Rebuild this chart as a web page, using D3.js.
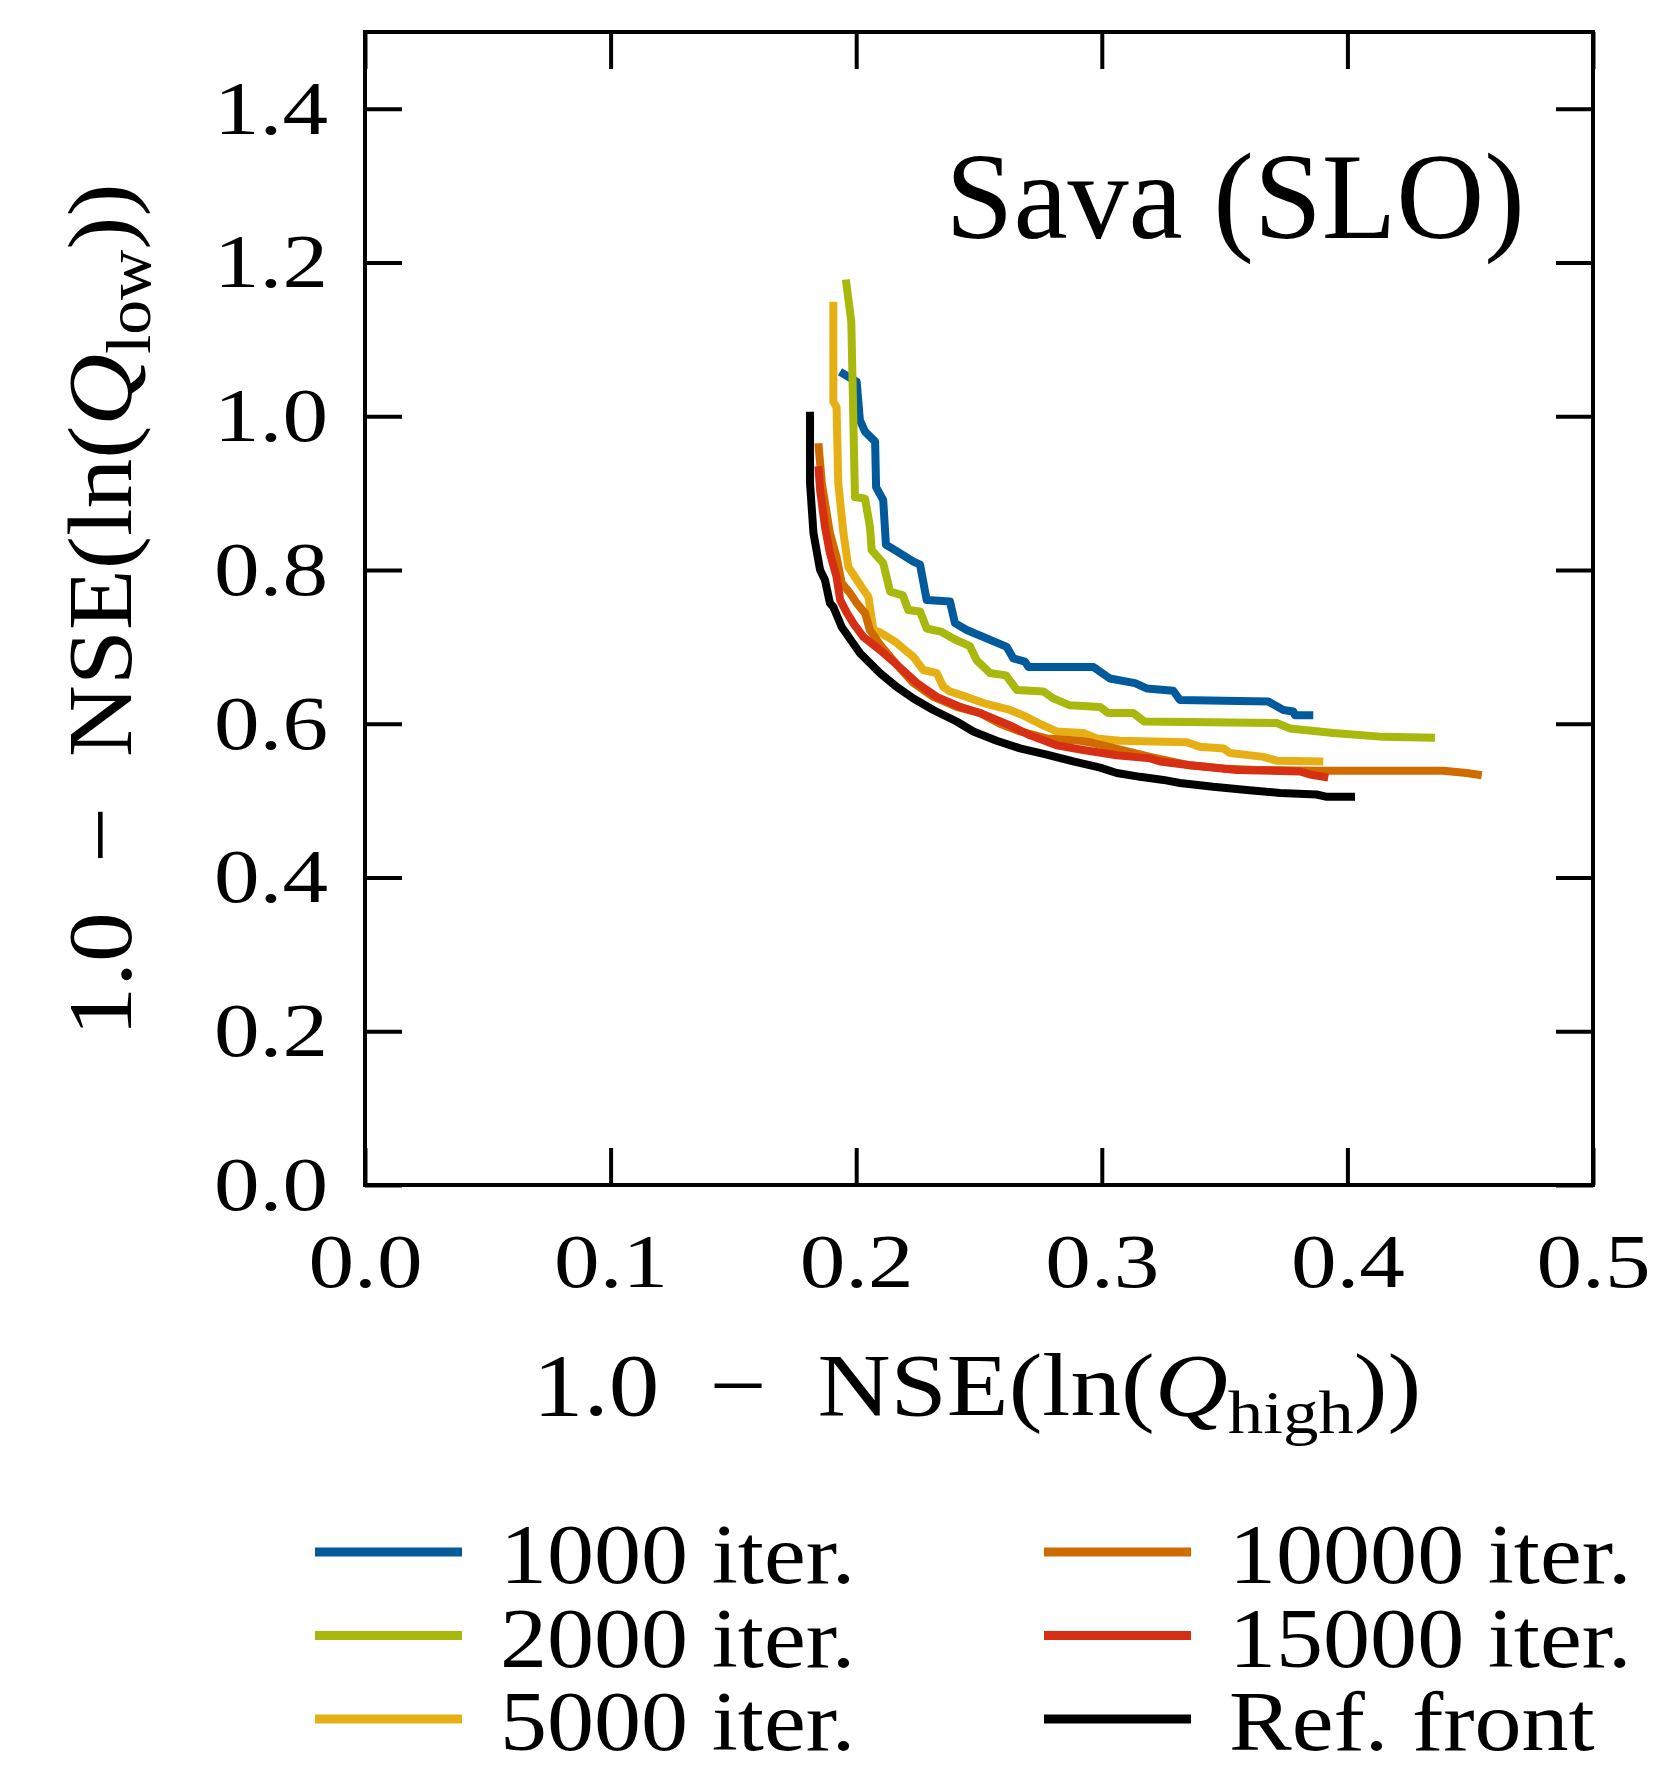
<!DOCTYPE html>
<html>
<head>
<meta charset="utf-8">
<script src="https://cdn.jsdelivr.net/npm/d3@7"></script>
<style>
  body { margin: 0; background: #fff; }
  text { font-family: "Liberation Serif", "DejaVu Serif", serif; fill: #000; }
</style>
</head>
<body>
<svg class="svg-main" width="1653" height="1772"></svg>
<script>
// values: [1 - NSE(ln Qhigh), 1 - NSE(ln Qlow)]
const iter1000 = [[0.1934,1.058],[0.2002,1.045],[0.2015,0.995],[0.2036,0.980],[0.2077,0.967],[0.2081,0.908],
  [0.2110,0.891],[0.2121,0.833],[0.2158,0.826],[0.2233,0.811],[0.2260,0.807],[0.2287,0.761],[0.2382,0.759],
  [0.2402,0.731],[0.2450,0.722],[0.2613,0.700],[0.2640,0.685],[0.2687,0.681],[0.2701,0.674],[0.2966,0.674],
  [0.3033,0.659],[0.3135,0.653],[0.3183,0.646],[0.3291,0.643],[0.3318,0.631],[0.3678,0.629],[0.3739,0.618],
  [0.3780,0.616],[0.3787,0.611],[0.3861,0.611]];
const iter2000 = [[0.1958,1.178],[0.1980,1.123],[0.1995,0.895],[0.2036,0.893],[0.2056,0.856],[0.2063,0.826],
  [0.2110,0.809],[0.2138,0.772],[0.2190,0.767],[0.2212,0.748],[0.2260,0.746],[0.2287,0.724],[0.2345,0.720],
  [0.2400,0.710],[0.2463,0.701],[0.2490,0.683],[0.2545,0.666],[0.2610,0.663],[0.2654,0.644],[0.2762,0.642],
  [0.2803,0.633],[0.2870,0.624],[0.2993,0.622],[0.3026,0.614],[0.3128,0.614],[0.3173,0.603],[0.3712,0.601],
  [0.3766,0.594],[0.3943,0.588],[0.4146,0.583],[0.4357,0.582]];
const iter5000 = [[0.1907,1.149],[0.1907,1.019],[0.1920,1.012],[0.1927,0.913],[0.1948,0.848],[0.1968,0.804],
  [0.1995,0.791],[0.2022,0.778],[0.2050,0.765],[0.2070,0.722],[0.2097,0.719],[0.2158,0.707],[0.2199,0.696],
  [0.2233,0.687],[0.2273,0.670],[0.2328,0.666],[0.2355,0.648],[0.2382,0.642],[0.2450,0.635],[0.2518,0.627],
  [0.2626,0.618],[0.2680,0.611],[0.2748,0.600],[0.2816,0.590],[0.2925,0.588],[0.2979,0.581],[0.3074,0.578],
  [0.3210,0.577],[0.3346,0.576],[0.3400,0.570],[0.3495,0.568],[0.3522,0.562],[0.3658,0.557],[0.3712,0.552],
  [0.3902,0.551]];
const iter10000 = [[0.1846,0.965],[0.1860,0.913],[0.1893,0.848],[0.1920,0.817],[0.1941,0.783],[0.1975,0.770],
  [0.2002,0.757],[0.2036,0.744],[0.2056,0.722],[0.2097,0.703],[0.2165,0.677],[0.2233,0.653],[0.2314,0.635],
  [0.2409,0.622],[0.2504,0.614],[0.2585,0.600],[0.2667,0.590],[0.2776,0.581],[0.2912,0.578],[0.2966,0.575],
  [0.3197,0.557],[0.3359,0.546],[0.3495,0.542],[0.3631,0.540],[0.3875,0.539],[0.4147,0.539],[0.4390,0.539],
  [0.4486,0.536],[0.4547,0.533]];
const iter15000 = [[0.1846,0.935],[0.1853,0.904],[0.1873,0.856],[0.1893,0.822],[0.1920,0.791],[0.1935,0.761],
  [0.1961,0.745],[0.1990,0.730],[0.2029,0.713],[0.2097,0.696],[0.2165,0.677],[0.2247,0.653],[0.2328,0.635],
  [0.2423,0.622],[0.2504,0.614],[0.2626,0.598],[0.2708,0.585],[0.2816,0.572],[0.2925,0.566],[0.3061,0.559],
  [0.3197,0.555],[0.3237,0.551],[0.3359,0.546],[0.3550,0.540],[0.3807,0.538],[0.3848,0.534],[0.3922,0.530]];
const refFront = [[0.1812,1.006],[0.1812,0.913],[0.1826,0.848],[0.1853,0.800],[0.1873,0.787],[0.1893,0.757],
  [0.1907,0.752],[0.1941,0.726],[0.2015,0.692],[0.2097,0.666],[0.2165,0.648],[0.2233,0.633],[0.2314,0.618],
  [0.2409,0.603],[0.2477,0.590],[0.2572,0.578],[0.2667,0.568],[0.2776,0.560],[0.2884,0.551],[0.2993,0.543],
  [0.3061,0.536],[0.3156,0.531],[0.3251,0.527],[0.3318,0.523],[0.3454,0.518],[0.3590,0.514],[0.3726,0.510],
  [0.3875,0.508],[0.3916,0.505],[0.4031,0.505]];

const seriesNames = ["1000 iter.", "2000 iter.", "5000 iter.", "10000 iter.", "15000 iter.", "Ref. front"];
const seriesColors = ["#005a9c", "#a8b80c", "#e6b015", "#d06b00", "#d62f14", "#000000"];
const seriesData = [iter1000, iter2000, iter5000, iter10000, iter15000, refFront];

const xTicks = [0, 0.1, 0.2, 0.3, 0.4, 0.5];
const yTicks = [0, 0.2, 0.4, 0.6, 0.8, 1.0, 1.2, 1.4];
const title = "Sava (SLO)";

const svg = d3.select(".svg-main");

const plotL = 365, plotR = 1593, plotT = 32, plotB = 1185;
const x = d3.scaleLinear().domain([0, 0.5]).range([plotL, plotR]);
const y = d3.scaleLinear().domain([0, 1.5]).range([plotB, plotT]);

// stretch text horizontally (the original is wider than a plain serif)
function stretch(sel, k) {
  sel.each(function() {
    const w = this.getComputedTextLength();
    d3.select(this).attr("textLength", w * k).attr("lengthAdjust", "spacingAndGlyphs");
  });
}

// curves
const line = d3.line().x((d) => x(d[0])).y((d) => y(d[1]));
svg.append("g")
  .selectAll("path")
  .data(seriesData)
  .enter().append("path")
    .attr("d", line)
    .attr("fill", "none")
    .attr("stroke", (d, i) => seriesColors[i])
    .attr("stroke-width", 8)
    .attr("stroke-linejoin", "round");

// axes, ticks pointing inward on all four sides
const fmt = d3.format(".1f");
const gx = svg.append("g").attr("transform", `translate(0,${plotB})`)
  .call(d3.axisBottom(x).tickValues(xTicks).tickSize(-37).tickPadding(48).tickFormat(fmt));
const gy = svg.append("g").attr("transform", `translate(${plotL},0)`)
  .call(d3.axisLeft(y).tickValues(yTicks).tickSize(-37).tickPadding(37).tickFormat(fmt));
const gt = svg.append("g").attr("transform", `translate(0,${plotT})`)
  .call(d3.axisTop(x).tickValues(xTicks).tickSize(-37).tickFormat(""));
const gr = svg.append("g").attr("transform", `translate(${plotR},0)`)
  .call(d3.axisRight(y).tickValues(yTicks).tickSize(-37).tickFormat(""));

[gx, gy, gt, gr].forEach((g) => {
  g.select(".domain").remove();
  g.selectAll(".tick line").attr("stroke", "#000").attr("stroke-width", 4);
  g.selectAll("text")
    .style("font-family", '"Liberation Serif", "DejaVu Serif", serif')
    .attr("font-size", 76)
    .attr("fill", "#000");
});
stretch(gx.selectAll(".tick text"), 1.2);
stretch(gy.selectAll(".tick text"), 1.2);

svg.append("rect")
  .attr("x", plotL).attr("y", plotT)
  .attr("width", plotR - plotL).attr("height", plotB - plotT)
  .attr("fill", "none").attr("stroke", "#000").attr("stroke-width", 4);

// axis labels
function axisLabel(g, sub) {
  const t = g.append("text").attr("text-anchor", "middle");
  t.append("tspan").text("1.0\u2002\u2212\u2002NSE(ln(");
  t.append("tspan").attr("font-style", "italic").text("Q");
  t.append("tspan").attr("font-size", "0.7em").attr("dy", "0.3em").text(sub);
  t.append("tspan").attr("dy", "-0.21em").text("))");
  return t;
}
const xl = svg.append("g").attr("transform", "translate(977,1415) scale(1.15,1)");
axisLabel(xl, "high").attr("font-size", 88);

const yl = svg.append("g").attr("transform", "translate(131,610) rotate(-90) scale(1.08,1)");
axisLabel(yl, "low").attr("font-size", 92);

// title inside the plot
svg.append("text")
  .attr("x", 1525).attr("y", 238)
  .attr("text-anchor", "end")
  .attr("font-size", 122)
  .text(title);

// legend below the plot, two columns of three
const legend = svg.append("g")
  .selectAll("g")
  .data(seriesNames)
  .enter().append("g")
    .attr("transform", (d, i) => `translate(${i < 3 ? 315 : 1044},${1552 + (i % 3) * 83.5})`);
legend.append("line")
  .attr("x1", 0).attr("x2", 147)
  .attr("stroke", (d, i) => seriesColors[i])
  .attr("stroke-width", 9);
const ltext = legend.append("text")
  .attr("x", 185).attr("y", 31)
  .attr("font-size", 84)
  .text((d) => d);
stretch(ltext, 1.12);
</script>
</body>
</html>
